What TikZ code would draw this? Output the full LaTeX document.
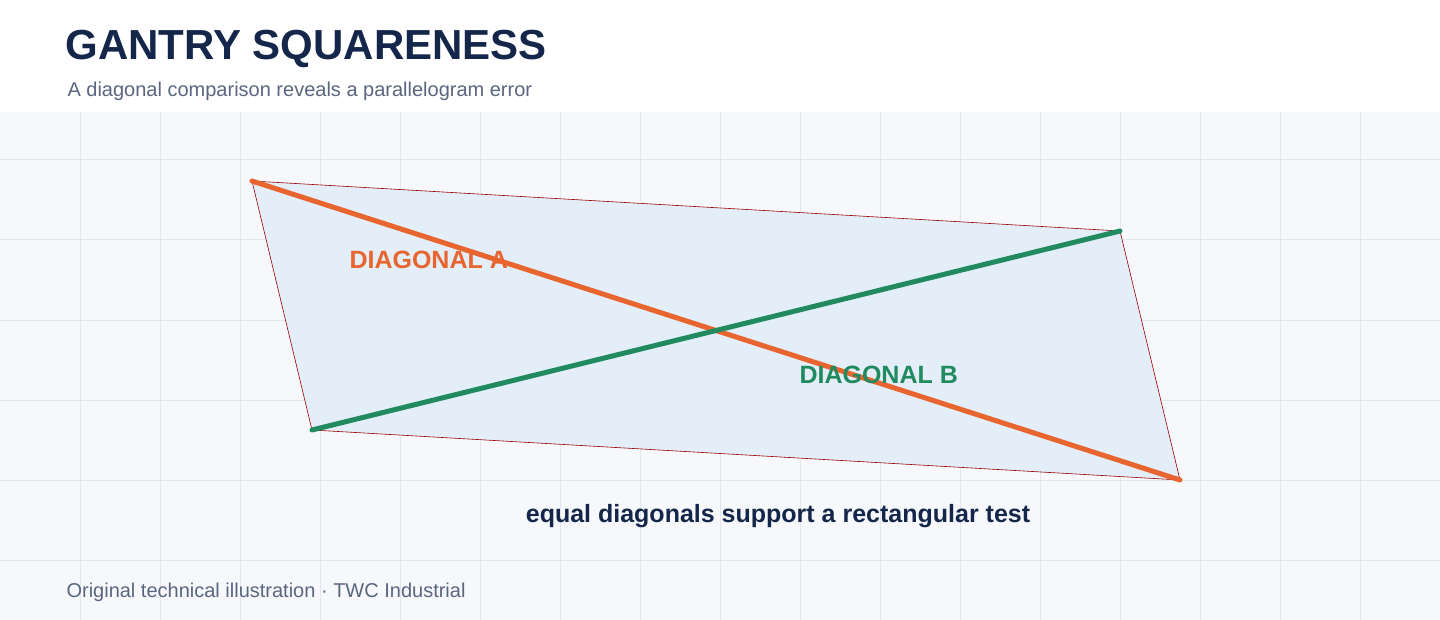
\documentclass[tikz,border=0pt]{standalone}
\usepackage{fontspec}
\setmainfont{Liberation Sans}
\usetikzlibrary{positioning}
\definecolor{inkcolor}{HTML}{14264A}
\definecolor{subcolor}{HTML}{5A6680}
\definecolor{gridcolor}{HTML}{E3E6EC}
\definecolor{panelcolor}{HTML}{F6F8FB}
\definecolor{framecolor}{HTML}{E3EEF8}
\definecolor{diagacolor}{HTML}{E8652F}
\definecolor{diagbcolor}{HTML}{218A5E}
\tikzset{
  diag/.style={line width=5pt, line cap=round},
  label/.style={anchor=west, font=\fontsize{25}{28}\selectfont\bfseries},
}
\begin{document}
\begin{tikzpicture}[x=1pt, y=-1pt]
    % Fond
    \useasboundingbox (0,0) rectangle (1440,620);
    \fill[white] (0,0) rectangle (1440,620);
    \fill[panelcolor] (0,112) rectangle (1440,620);
    \foreach \x in {80,160,...,1360}
        \draw[gridcolor, line width=1pt] (\x,112) -- (\x,620);
    \foreach \y in {160,240,...,560}
        \draw[gridcolor, line width=1pt] (0,\y) -- (1440,\y);

    % Titre
    \node[anchor=west, font=\fontsize{42}{46}\selectfont\bfseries, text=inkcolor] (title) at (62,49) {GANTRY SQUARENESS};
    \node[anchor=west, font=\fontsize{20}{24}\selectfont, text=subcolor] (subtitle) at (64,91) {A diagonal comparison reveals a parallelogram error};

    % Portique
    \coordinate (tl) at (252,181);
    \coordinate (tr) at (1120,231);
    \coordinate (br) at (1180,480);
    \coordinate (bl) at (312,430);
    \filldraw[fill=framecolor, draw=red!60!black, line width=0.6pt] (tl) -- (tr) -- (br) -- (bl) -- cycle;

    % Diagonales
    \draw[diag, diagacolor] (tl) -- (br);
    \draw[diag, diagbcolor] (bl) -- (tr);
    \node[label, text=diagacolor] (labela) at (346,260) {DIAGONAL A};
    \node[label, text=diagbcolor] (labelb) at (796,375) {DIAGONAL B};

    % Note
    \node[font=\fontsize{25}{28}\selectfont\bfseries, text=inkcolor] (note) at (778,516) {equal diagonals support a rectangular test};
    \node[anchor=west, font=\fontsize{20}{24}\selectfont, text=subcolor] (footer) at (63,592) {Original technical illustration · TWC Industrial};
\end{tikzpicture}
\end{document}
